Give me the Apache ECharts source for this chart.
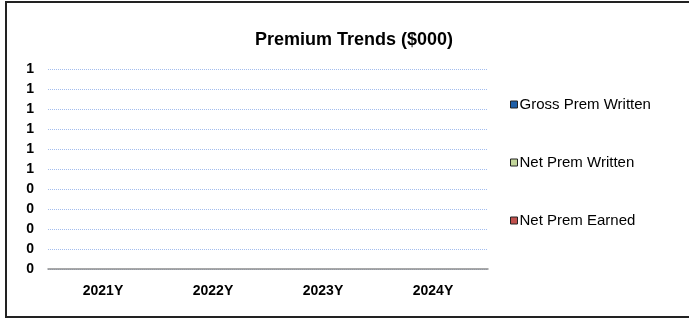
<!DOCTYPE html>
<html lang="en">
<head>
    <meta charset="UTF-8">
    <title>Premium Trends</title>
    <script src="https://cdn.jsdelivr.net/npm/echarts@6.0.0/dist/echarts.min.js"></script>
    <style>
        html, body { margin: 0; padding: 0; background: #fff; overflow: hidden; }
        #wrap { position: relative; width: 689px; height: 318px; overflow: hidden; }
        #chart { position: absolute; left: 0; top: 0; width: 689px; height: 318px; }
        #frame { position: absolute; left: 5px; top: 1px; width: 684px; height: 313px;
                 border-left: 2px solid #222; border-top: 2px solid #222; border-bottom: 2px solid #222;
                 border-right: 0; box-sizing: content-box; pointer-events: none; }
    </style>
</head>
<body>
<div id="wrap">
    <div id="chart"></div>
    <div id="frame"></div>
</div>
<script>
    // data
    var years = ['2021Y', '2022Y', '2023Y', '2024Y'];
    var grossPremWritten = [0, 0, 0, 0];
    var netPremWritten = [0, 0, 0, 0];
    var netPremEarned = [0, 0, 0, 0];
    var seriesNames = ['Gross Prem Written', 'Net Prem Written', 'Net Prem Earned'];
    var seriesColors = ['#1f5fa8', '#c3d69b', '#c0504d'];

    var chart = echarts.init(document.getElementById('chart'));
    var font = 'Liberation Sans, Arial, sans-serif';

    var option = {
        animation: false,
        title: {
            text: 'Premium Trends ($000)',
            left: 250,
            top: 26,
            textStyle: { fontFamily: font, fontSize: 18, fontWeight: 'bold', color: '#000' }
        },
        legend: {
            orient: 'vertical',
            left: 505,
            top: 92,
            itemGap: 43,
            itemWidth: 7,
            itemHeight: 7,
            icon: 'rect',
            textStyle: { fontFamily: font, fontSize: 15, color: '#000', padding: [0, 0, 0, -3] },
            data: seriesNames.map(function (n) {
                return { name: n, itemStyle: { borderColor: '#222', borderWidth: 1 } };
            })
        },
        // 200px plot height -> gridlines land on whole pixels
        grid: { left: 48, right: 201, top: 69, bottom: 49 },
        xAxis: {
            type: 'category',
            data: years,
            axisLine: { lineStyle: { color: '#8c8c8c', width: 1.5 } },
            axisTick: { show: false },
            axisLabel: { fontFamily: font, fontSize: 14, fontWeight: 'bold', color: '#000', margin: 15 }
        },
        yAxis: {
            type: 'value',
            min: 0,
            max: 1,
            interval: 0.1,
            axisLine: { show: false },
            axisTick: { show: false },
            axisLabel: {
                fontFamily: font, fontSize: 14, fontWeight: 'bold', color: '#000', margin: 14,
                formatter: function (v) { return Math.round(v); }
            },
            splitLine: { lineStyle: { color: '#a3bdee', type: [1, 1], width: 1 } }
        },
        series: [
            { name: seriesNames[0], type: 'bar', data: grossPremWritten, itemStyle: { color: seriesColors[0] } },
            { name: seriesNames[1], type: 'bar', data: netPremWritten, itemStyle: { color: seriesColors[1] } },
            { name: seriesNames[2], type: 'bar', data: netPremEarned, itemStyle: { color: seriesColors[2] } }
        ]
    };
    chart.setOption(option);
</script>
</body>
</html>
